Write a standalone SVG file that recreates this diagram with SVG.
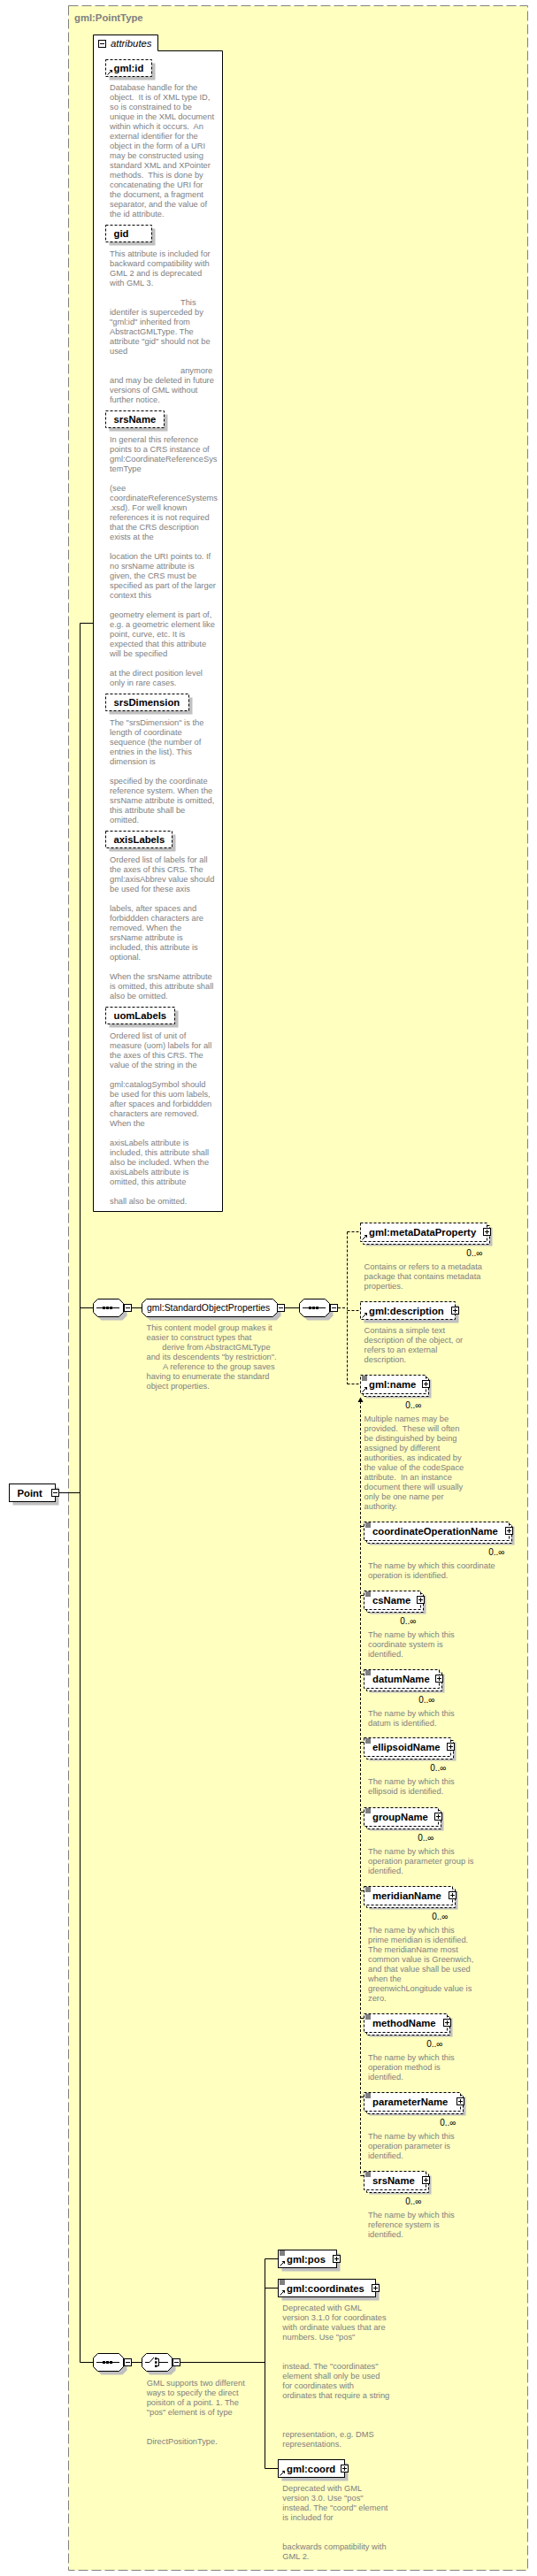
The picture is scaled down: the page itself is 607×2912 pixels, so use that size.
<svg xmlns="http://www.w3.org/2000/svg" width="607" height="2912" viewBox="0 0 607 2912">
<style>
.d{font-family:"Liberation Sans",Arial,sans-serif;font-size:9.3px;fill:#808080}
.n{font-family:"Liberation Sans",Arial,sans-serif;font-size:11.3px;font-weight:bold;fill:#000}
.m{font-family:"Liberation Sans",Arial,sans-serif;font-size:10px;fill:#000;text-anchor:end}
.g{font-family:"Liberation Sans",Arial,sans-serif;font-size:10.4px;fill:#000}
.t{font-family:"Liberation Sans",Arial,sans-serif;font-size:11.3px;font-weight:bold;fill:#808080}
.i{font-family:"Liberation Sans",Arial,sans-serif;font-size:11.3px;font-style:italic;fill:#000}
.b{fill:#fff;stroke:#000}
.o{fill:#fff;stroke:#000;stroke-dasharray:3,2}
.s{fill:#c0c0c0}
.l{fill:none;stroke:#000}
.dl{fill:none;stroke:#000;stroke-dasharray:3,2}
</style>
<defs>
<g id="plus"><rect x="0.5" y="0.5" width="8" height="8" class="b"/><path d="M2,4.5H7M4.5,2V7" class="l"/></g>
<g id="minus"><rect x="0.5" y="0.5" width="8" height="8" class="b"/><path d="M2,4.5H7" class="l"/></g>
<g id="ref"><path d="M0.5,6.5L4.5,2.5" class="l"/><path d="M2.5,1H6V4.5Z" fill="#000"/></g>
<path id="lin" d="M0,0.5H6M0,2.5H6M0,4.5H6"/>
<path id="oct" d="M5.5,0.5H29.5L34.5,5.5V15.5L29.5,20.5H5.5L0.5,15.5V5.5Z"/>
<g id="seq"><use href="#oct" x="4" y="4" class="s"/><use href="#oct" class="b"/><path d="M4,10.5H30" class="l"/><rect x="11" y="9" width="3" height="3"/><rect x="15" y="9" width="3" height="3"/><rect x="19" y="9" width="3" height="3"/><use href="#minus" x="35" y="6"/></g>
<g id="cho"><use href="#oct" x="4" y="4" class="s"/><use href="#oct" class="b"/><path d="M4,10.5H9L14,5" class="l"/><rect x="15" y="5" width="2.5" height="2.5"/><rect x="15" y="9.25" width="2.5" height="2.5"/><rect x="15" y="13.5" width="2.5" height="2.5"/><path d="M17.5,6.5H19.5V14.5H17.5M19.5,10.5H30" class="l"/><use href="#minus" x="35" y="6"/></g>
</defs>

<g id="PointType">
<rect x="77.5" y="6.5" width="519" height="2899" fill="#ffffc0" stroke="#808080" stroke-dasharray="11,4"/>
<text class="t" x="84" y="23.5">gml:PointType</text>
</g>

<g id="attributes">
<path d="M105.5,1369.5V39.5H178.5V57.5H251.5V1369.5Z" class="b"/>
<use href="#minus" x="111" y="45"/>
<text class="i" x="125" y="52.5">attributes</text>
</g>

<g id="attr-gml-id">
<rect x="123.5" y="71.5" width="52" height="19" class="s"/>
<rect x="119.5" y="67.5" width="52" height="19" class="o"/>
<use href="#ref" x="121" y="78"/>
<text class="n" x="128.5" y="80.5">gml:id</text>
<text class="d" x="124" y="101.7">Database handle for the</text>
<text class="d" x="124" y="112.7" xml:space="preserve">object.  It is of XML type ID,</text>
<text class="d" x="124" y="123.7">so is constrained to be</text>
<text class="d" x="124" y="134.7">unique in the XML document</text>
<text class="d" x="124" y="145.7" xml:space="preserve">within which it occurs.  An</text>
<text class="d" x="124" y="156.7">external identifier for the</text>
<text class="d" x="124" y="167.7">object in the form of a URI</text>
<text class="d" x="124" y="178.7">may be constructed using</text>
<text class="d" x="124" y="189.7">standard XML and XPointer</text>
<text class="d" x="124" y="200.7" xml:space="preserve">methods.  This is done by</text>
<text class="d" x="124" y="211.7">concatenating the URI for</text>
<text class="d" x="124" y="222.7">the document, a fragment</text>
<text class="d" x="124" y="233.7">separator, and the value of</text>
<text class="d" x="124" y="244.7">the id attribute.</text>
</g>

<g id="attr-gid">
<rect x="123.5" y="258.5" width="52" height="19" class="s"/>
<rect x="119.5" y="254.5" width="52" height="19" class="o"/>
<text class="n" x="128.5" y="267.5">gid</text>
<text class="d" x="124" y="289.7">This attribute is included for</text>
<text class="d" x="124" y="300.7">backward compatibility with</text>
<text class="d" x="124" y="311.7">GML 2 and is deprecated</text>
<text class="d" x="124" y="322.7">with GML 3.</text>
<text class="d" x="204" y="344.7">This</text>
<text class="d" x="124" y="355.7">identifer is superceded by</text>
<text class="d" x="124" y="366.7">"gml:id" inherited from</text>
<text class="d" x="124" y="377.7">AbstractGMLType. The</text>
<text class="d" x="124" y="388.7">attribute "gid" should not be</text>
<text class="d" x="124" y="399.7">used</text>
<text class="d" x="204" y="421.7">anymore</text>
<text class="d" x="124" y="432.7">and may be deleted in future</text>
<text class="d" x="124" y="443.7">versions of GML without</text>
<text class="d" x="124" y="454.7">further notice.</text>
</g>

<g id="attr-srsName">
<rect x="123.5" y="468.5" width="66" height="19" class="s"/>
<rect x="119.5" y="464.5" width="66" height="19" class="o"/>
<text class="n" x="128.5" y="477.5">srsName</text>
<text class="d" x="124" y="499.7">In general this reference</text>
<text class="d" x="124" y="510.7">points to a CRS instance of</text>
<text class="d" x="124" y="521.7">gml:CoordinateReferenceSys</text>
<text class="d" x="124" y="532.7">temType</text>
<text class="d" x="124" y="554.7">(see</text>
<text class="d" x="124" y="565.7">coordinateReferenceSystems</text>
<text class="d" x="124" y="576.7">.xsd). For well known</text>
<text class="d" x="124" y="587.7">references it is not required</text>
<text class="d" x="124" y="598.7">that the CRS description</text>
<text class="d" x="124" y="609.7">exists at the</text>
<text class="d" x="124" y="631.7">location the URI points to. If</text>
<text class="d" x="124" y="642.7">no srsName attribute is</text>
<text class="d" x="124" y="653.7">given, the CRS must be</text>
<text class="d" x="124" y="664.7">specified as part of the larger</text>
<text class="d" x="124" y="675.7">context this</text>
<text class="d" x="124" y="697.7">geometry element is part of,</text>
<text class="d" x="124" y="708.7">e.g. a geometric element like</text>
<text class="d" x="124" y="719.7">point, curve, etc. It is</text>
<text class="d" x="124" y="730.7">expected that this attribute</text>
<text class="d" x="124" y="741.7">will be specified</text>
<text class="d" x="124" y="763.7">at the direct position level</text>
<text class="d" x="124" y="774.7">only in rare cases.</text>
</g>

<g id="attr-srsDimension">
<rect x="123.5" y="788.5" width="94" height="19" class="s"/>
<rect x="119.5" y="784.5" width="94" height="19" class="o"/>
<text class="n" x="128.5" y="797.5">srsDimension</text>
<text class="d" x="124" y="819.7">The "srsDimension" is the</text>
<text class="d" x="124" y="830.7">length of coordinate</text>
<text class="d" x="124" y="841.7">sequence (the number of</text>
<text class="d" x="124" y="852.7">entries in the list). This</text>
<text class="d" x="124" y="863.7">dimension is</text>
<text class="d" x="124" y="885.7">specified by the coordinate</text>
<text class="d" x="124" y="896.7">reference system. When the</text>
<text class="d" x="124" y="907.7">srsName attribute is omitted,</text>
<text class="d" x="124" y="918.7">this attribute shall be</text>
<text class="d" x="124" y="929.7">omitted.</text>
</g>

<g id="attr-axisLabels">
<rect x="123.5" y="943.5" width="75" height="19" class="s"/>
<rect x="119.5" y="939.5" width="75" height="19" class="o"/>
<text class="n" x="128.5" y="952.5">axisLabels</text>
<text class="d" x="124" y="974.7">Ordered list of labels for all</text>
<text class="d" x="124" y="985.7">the axes of this CRS. The</text>
<text class="d" x="124" y="996.7">gml:axisAbbrev value should</text>
<text class="d" x="124" y="1007.7">be used for these axis</text>
<text class="d" x="124" y="1029.7">labels, after spaces and</text>
<text class="d" x="124" y="1040.7">forbiddden characters are</text>
<text class="d" x="124" y="1051.7">removed. When the</text>
<text class="d" x="124" y="1062.7">srsName attribute is</text>
<text class="d" x="124" y="1073.7">included, this attribute is</text>
<text class="d" x="124" y="1084.7">optional.</text>
<text class="d" x="124" y="1106.7">When the srsName attribute</text>
<text class="d" x="124" y="1117.7">is omitted, this attribute shall</text>
<text class="d" x="124" y="1128.7">also be omitted.</text>
</g>

<g id="attr-uomLabels">
<rect x="123.5" y="1142.5" width="78" height="19" class="s"/>
<rect x="119.5" y="1138.5" width="78" height="19" class="o"/>
<text class="n" x="128.5" y="1151.5">uomLabels</text>
<text class="d" x="124" y="1173.7">Ordered list of unit of</text>
<text class="d" x="124" y="1184.7">measure (uom) labels for all</text>
<text class="d" x="124" y="1195.7">the axes of this CRS. The</text>
<text class="d" x="124" y="1206.7">value of the string in the</text>
<text class="d" x="124" y="1228.7">gml:catalogSymbol should</text>
<text class="d" x="124" y="1239.7">be used for this uom labels,</text>
<text class="d" x="124" y="1250.7">after spaces and forbiddden</text>
<text class="d" x="124" y="1261.7">characters are removed.</text>
<text class="d" x="124" y="1272.7">When the</text>
<text class="d" x="124" y="1294.7">axisLabels attribute is</text>
<text class="d" x="124" y="1305.7">included, this attribute shall</text>
<text class="d" x="124" y="1316.7">also be included. When the</text>
<text class="d" x="124" y="1327.7">axisLabels attribute is</text>
<text class="d" x="124" y="1338.7">omitted, this attribute</text>
<text class="d" x="124" y="1360.7">shall also be omitted.</text>
</g>

<g id="connectors">
<path class="l" d="M67,1687.5H90.5M90.5,704.5V2670.5M90.5,704.5H105.5M90.5,1478.5H105.5M149,1478.5H160.5M322,1478.5H338.5"/>
<path class="dl" d="M382,1478.5H392.5M392.5,1392.5V1564.5M392.5,1392.5H407.5M392.5,1481.5H407.5M392.5,1564.5H407.5"/>
<path class="dl" d="M407.5,1584V2459.5"/>
<path d="M404.5,1585L407.5,1579.5L410.5,1585Z" fill="#000"/>
<path class="l" d="M407.5,1725.5H411.5M407.5,1803.5H411.5M407.5,1892.5H411.5M407.5,1969.5H411.5M407.5,2048.5H411.5M407.5,2137.5H411.5M407.5,2281.5H411.5M407.5,2370.5H411.5M407.5,2459.5H411.5"/>
<path class="l" d="M90.5,2670.5H105.5M149,2670.5H160.5M204,2670.5H299.5M299.5,2553.5V2790.5M299.5,2553.5H314.5M299.5,2586.5H314.5M299.5,2790.5H314.5"/>
</g>

<g id="Point">
<rect x="14.5" y="1681.5" width="52" height="20" class="s"/>
<rect x="10.5" y="1677.5" width="52" height="20" class="b"/>
<text class="n" x="19.5" y="1691.5">Point</text>
<use href="#minus" x="58" y="1683"/>
</g>

<g id="sequence1"><use href="#seq" x="105" y="1468"/></g>

<g id="StandardObjectProperties">
<path class="s" d="M169.5,1472.5H312.5L317.5,1477.5V1487.5L312.5,1492.5H169.5L164.5,1487.5V1477.5Z"/>
<path class="b" d="M165.5,1468.5H308.5L313.5,1473.5V1483.5L308.5,1488.5H165.5L160.5,1483.5V1473.5Z"/>
<text class="g" x="166" y="1482">gml:StandardObjectProperties</text>
<use href="#minus" x="313" y="1474"/>
<text class="d" x="165.5" y="1503.7">This content model group makes it</text>
<text class="d" x="165.5" y="1514.7">easier to construct types that</text>
<text class="d" x="183.3" y="1525.7">derive from AbstractGMLType</text>
<text class="d" x="165.5" y="1536.7">and its descendents "by restriction".</text>
<text class="d" x="184" y="1547.7">A reference to the group saves</text>
<text class="d" x="165.5" y="1558.7">having to enumerate the standard</text>
<text class="d" x="165.5" y="1569.7">object properties.</text>
</g>

<g id="sequence2"><use href="#seq" x="338" y="1468"/></g>

<g id="metaDataProperty">
<rect x="413.5" y="1387.5" width="143" height="21" class="s"/>
<rect x="410.5" y="1385.5" width="143" height="21" class="o"/>
<rect x="407.5" y="1382.5" width="143" height="21" class="o"/>
<use href="#ref" x="409" y="1395"/>
<text class="n" x="417" y="1397">gml:metaDataProperty</text>
<use href="#plus" x="546" y="1388"/>
<text class="m" x="545.5" y="1419.5">0..∞</text>
<text class="d" x="411.6" y="1434.7">Contains or refers to a metadata</text>
<text class="d" x="411.6" y="1445.7">package that contains metadata</text>
<text class="d" x="411.6" y="1456.7">properties.</text>
</g>

<g id="description">
<rect x="411.5" y="1475.5" width="107" height="20" class="s"/>
<rect x="407.5" y="1471.5" width="107" height="20" class="o"/>
<use href="#ref" x="409" y="1483"/>
<text class="n" x="417" y="1485.5">gml:description</text>
<use href="#plus" x="510" y="1477"/>
<text class="d" x="411.6" y="1506.7">Contains a simple text</text>
<text class="d" x="411.6" y="1517.7">description of the object, or</text>
<text class="d" x="411.6" y="1528.7">refers to an external</text>
<text class="d" x="411.6" y="1539.7">description.</text>
</g>

<g id="name">
<rect x="413.5" y="1559.5" width="74" height="21" class="s"/>
<rect x="410.5" y="1557.5" width="74" height="21" class="o"/>
<rect x="407.5" y="1554.5" width="74" height="21" class="o"/>
<use href="#lin" x="409" y="1555.5" class="l"/>
<use href="#ref" x="409" y="1567"/>
<text class="n" x="417" y="1569">gml:name</text>
<use href="#plus" x="477" y="1560"/>
<text class="m" x="476.5" y="1591.5">0..∞</text>
<text class="d" x="411.6" y="1607">Multiple names may be</text>
<text class="d" x="411.6" y="1618" xml:space="preserve">provided.  These will often</text>
<text class="d" x="411.6" y="1629">be distinguished by being</text>
<text class="d" x="411.6" y="1640">assigned by different</text>
<text class="d" x="411.6" y="1651">authorities, as indicated by</text>
<text class="d" x="411.6" y="1662">the value of the codeSpace</text>
<text class="d" x="411.6" y="1673" xml:space="preserve">attribute.  In an instance</text>
<text class="d" x="411.6" y="1684">document there will usually</text>
<text class="d" x="411.6" y="1695">only be one name per</text>
<text class="d" x="411.6" y="1706">authority.</text>
</g>

<g id="coordinateOperationName">
<rect x="417.5" y="1725.5" width="164" height="21" class="s"/>
<rect x="414.5" y="1723.5" width="164" height="21" class="o"/>
<rect x="411.5" y="1720.5" width="164" height="21" class="o"/>
<use href="#lin" x="413" y="1721.5" class="l"/>
<text class="n" x="421" y="1735">coordinateOperationName</text>
<use href="#plus" x="571" y="1726"/>
<text class="m" x="570.5" y="1757.5">0..∞</text>
<text class="d" x="416" y="1773">The name by which this coordinate</text>
<text class="d" x="416" y="1784">operation is identified.</text>
</g>

<g id="csName">
<rect x="417.5" y="1803.5" width="64" height="21" class="s"/>
<rect x="414.5" y="1801.5" width="64" height="21" class="o"/>
<rect x="411.5" y="1798.5" width="64" height="21" class="o"/>
<use href="#lin" x="413" y="1799.5" class="l"/>
<text class="n" x="421" y="1813">csName</text>
<use href="#plus" x="471" y="1804"/>
<text class="m" x="470.5" y="1835.5">0..∞</text>
<text class="d" x="416" y="1851">The name by which this</text>
<text class="d" x="416" y="1862">coordinate system is</text>
<text class="d" x="416" y="1873">identified.</text>
</g>

<g id="datumName">
<rect x="417.5" y="1892.5" width="85" height="21" class="s"/>
<rect x="414.5" y="1890.5" width="85" height="21" class="o"/>
<rect x="411.5" y="1887.5" width="85" height="21" class="o"/>
<use href="#lin" x="413" y="1888.5" class="l"/>
<text class="n" x="421" y="1902">datumName</text>
<use href="#plus" x="492" y="1893"/>
<text class="m" x="491.5" y="1924.5">0..∞</text>
<text class="d" x="416" y="1940">The name by which this</text>
<text class="d" x="416" y="1951">datum is identified.</text>
</g>

<g id="ellipsoidName">
<rect x="417.5" y="1969.5" width="98" height="21" class="s"/>
<rect x="414.5" y="1967.5" width="98" height="21" class="o"/>
<rect x="411.5" y="1964.5" width="98" height="21" class="o"/>
<use href="#lin" x="413" y="1965.5" class="l"/>
<text class="n" x="421" y="1979">ellipsoidName</text>
<use href="#plus" x="505" y="1970"/>
<text class="m" x="504.5" y="2001.5">0..∞</text>
<text class="d" x="416" y="2017">The name by which this</text>
<text class="d" x="416" y="2028">ellipsoid is identified.</text>
</g>

<g id="groupName">
<rect x="417.5" y="2048.5" width="84" height="21" class="s"/>
<rect x="414.5" y="2046.5" width="84" height="21" class="o"/>
<rect x="411.5" y="2043.5" width="84" height="21" class="o"/>
<use href="#lin" x="413" y="2044.5" class="l"/>
<text class="n" x="421" y="2058">groupName</text>
<use href="#plus" x="491" y="2049"/>
<text class="m" x="490.5" y="2080.5">0..∞</text>
<text class="d" x="416" y="2096">The name by which this</text>
<text class="d" x="416" y="2107">operation parameter group is</text>
<text class="d" x="416" y="2118">identified.</text>
</g>

<g id="meridianName">
<rect x="417.5" y="2137.5" width="100" height="21" class="s"/>
<rect x="414.5" y="2135.5" width="100" height="21" class="o"/>
<rect x="411.5" y="2132.5" width="100" height="21" class="o"/>
<use href="#lin" x="413" y="2133.5" class="l"/>
<text class="n" x="421" y="2147">meridianName</text>
<use href="#plus" x="507" y="2138"/>
<text class="m" x="506.5" y="2169.5">0..∞</text>
<text class="d" x="416" y="2185">The name by which this</text>
<text class="d" x="416" y="2196">prime meridian is identified.</text>
<text class="d" x="416" y="2207">The meridianName most</text>
<text class="d" x="416" y="2218">common value is Greenwich,</text>
<text class="d" x="416" y="2229">and that value shall be used</text>
<text class="d" x="416" y="2240">when the</text>
<text class="d" x="416" y="2251">greenwichLongitude value is</text>
<text class="d" x="416" y="2262">zero.</text>
</g>

<g id="methodName">
<rect x="417.5" y="2281.5" width="94" height="21" class="s"/>
<rect x="414.5" y="2279.5" width="94" height="21" class="o"/>
<rect x="411.5" y="2276.5" width="94" height="21" class="o"/>
<use href="#lin" x="413" y="2277.5" class="l"/>
<text class="n" x="421" y="2291">methodName</text>
<use href="#plus" x="501" y="2282"/>
<text class="m" x="500.5" y="2313.5">0..∞</text>
<text class="d" x="416" y="2329">The name by which this</text>
<text class="d" x="416" y="2340">operation method is</text>
<text class="d" x="416" y="2351">identified.</text>
</g>

<g id="parameterName">
<rect x="417.5" y="2370.5" width="109" height="21" class="s"/>
<rect x="414.5" y="2368.5" width="109" height="21" class="o"/>
<rect x="411.5" y="2365.5" width="109" height="21" class="o"/>
<use href="#lin" x="413" y="2366.5" class="l"/>
<text class="n" x="421" y="2380">parameterName</text>
<use href="#plus" x="516" y="2371"/>
<text class="m" x="515.5" y="2402.5">0..∞</text>
<text class="d" x="416" y="2418">The name by which this</text>
<text class="d" x="416" y="2429">operation parameter is</text>
<text class="d" x="416" y="2440">identified.</text>
</g>

<g id="srsName">
<rect x="417.5" y="2459.5" width="70" height="21" class="s"/>
<rect x="414.5" y="2457.5" width="70" height="21" class="o"/>
<rect x="411.5" y="2454.5" width="70" height="21" class="o"/>
<use href="#lin" x="413" y="2455.5" class="l"/>
<text class="n" x="421" y="2469">srsName</text>
<use href="#plus" x="477" y="2460"/>
<text class="m" x="476.5" y="2491.5">0..∞</text>
<text class="d" x="416" y="2507">The name by which this</text>
<text class="d" x="416" y="2518">reference system is</text>
<text class="d" x="416" y="2529">identified.</text>
</g>

<g id="sequence3"><use href="#seq" x="105" y="2660"/></g>

<g id="choice">
<use href="#cho" x="160" y="2660"/>
<text class="d" x="165.7" y="2697">GML supports two different</text>
<text class="d" x="165.7" y="2708">ways to specify the direct</text>
<text class="d" x="165.7" y="2719">poisiton of a point. 1. The</text>
<text class="d" x="165.7" y="2730">"pos" element is of type</text>
<text class="d" x="165.7" y="2763">DirectPositionType.</text>
</g>

<g id="pos">
<rect x="318.5" y="2547.5" width="66" height="20" class="s"/>
<rect x="314.5" y="2543.5" width="66" height="20" class="b"/>
<use href="#lin" x="316" y="2544.5" class="l"/>
<use href="#ref" x="316" y="2555"/>
<text class="n" x="324" y="2557.5">gml:pos</text>
<use href="#plus" x="376" y="2549"/>
</g>

<g id="coordinates">
<rect x="318.5" y="2580.5" width="110" height="20" class="s"/>
<rect x="314.5" y="2576.5" width="110" height="20" class="b"/>
<use href="#lin" x="316" y="2577.5" class="l"/>
<use href="#ref" x="316" y="2588"/>
<text class="n" x="324" y="2590.5">gml:coordinates</text>
<use href="#plus" x="420" y="2582"/>
<text class="d" x="319.3" y="2612.3">Deprecated with GML</text>
<text class="d" x="319.3" y="2623.3">version 3.1.0 for coordinates</text>
<text class="d" x="319.3" y="2634.3">with ordinate values that are</text>
<text class="d" x="319.3" y="2645.3">numbers. Use "pos"</text>
<text class="d" x="319.3" y="2678.3">instead. The "coordinates"</text>
<text class="d" x="319.3" y="2689.3">element shall only be used</text>
<text class="d" x="319.3" y="2700.3">for coordinates with</text>
<text class="d" x="319.3" y="2711.3">ordinates that require a string</text>
<text class="d" x="319.3" y="2755">representation, e.g. DMS</text>
<text class="d" x="319.3" y="2766">representations.</text>
</g>

<g id="coord">
<rect x="318.5" y="2784.5" width="75" height="20" class="s"/>
<rect x="314.5" y="2780.5" width="75" height="20" class="b"/>
<use href="#ref" x="316" y="2792"/>
<text class="n" x="324" y="2794.5">gml:coord</text>
<use href="#plus" x="385" y="2786"/>
<text class="d" x="319.3" y="2815.7">Deprecated with GML</text>
<text class="d" x="319.3" y="2826.7">version 3.0. Use "pos"</text>
<text class="d" x="319.3" y="2837.7">instead. The "coord" element</text>
<text class="d" x="319.3" y="2848.7">is included for</text>
<text class="d" x="319.3" y="2881.7">backwards compatibility with</text>
<text class="d" x="319.3" y="2892.7">GML 2.</text>
</g>
</svg>
